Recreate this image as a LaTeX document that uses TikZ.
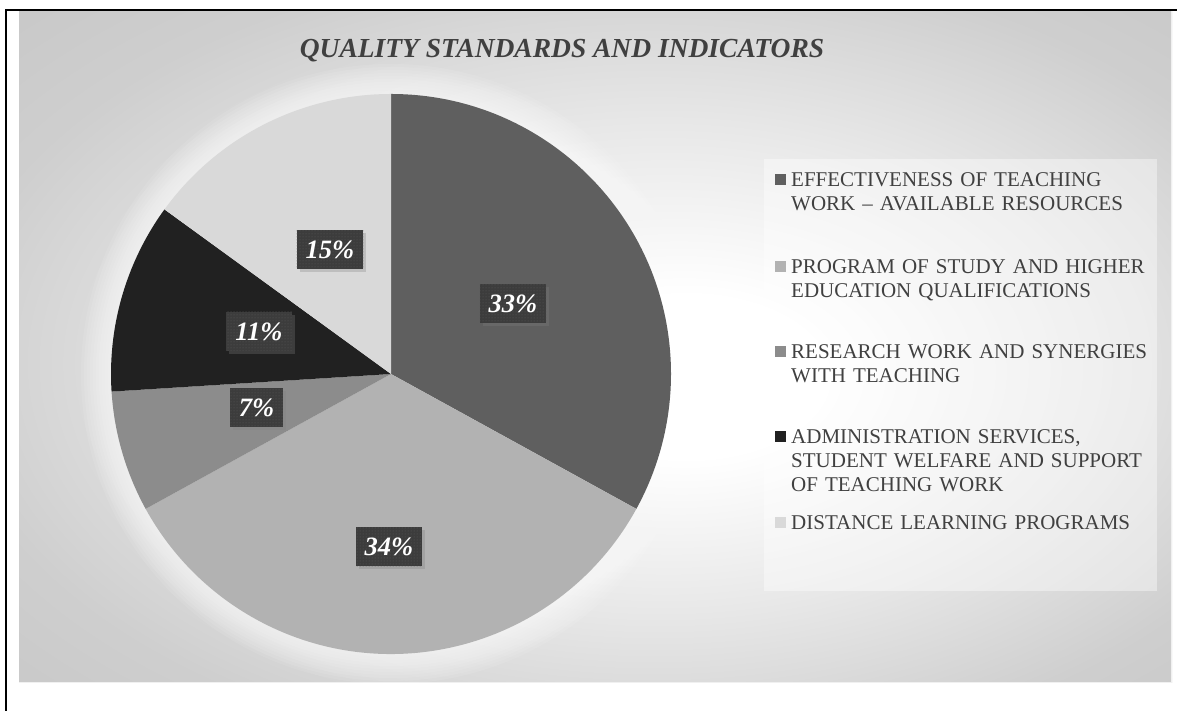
\documentclass[tikz,border=0pt]{standalone}
\usepackage{fontspec}
\setmainfont{Liberation Serif}
\usepackage{xcolor}
\usepackage{tikz}
\usetikzlibrary{positioning, calc, shadows, patterns}
\definecolor{qsText}{RGB}{64, 64, 64}
\definecolor{qsEffect}{RGB}{95, 95, 95}
\definecolor{qsProgram}{RGB}{178, 178, 178}
\definecolor{qsResearch}{RGB}{140, 140, 140}
\definecolor{qsAdmin}{RGB}{33, 33, 33}
\definecolor{qsDistance}{RGB}{217, 217, 217}
\definecolor{qsLabel}{RGB}{60, 60, 60}
\definecolor{qsDots}{RGB}{92, 92, 92}
\pgfdeclareradialshading{qsback}{\pgfpoint{4.5bp}{-2.5bp}}{%
    color(0bp)=(white); color(6bp)=(white); color(18bp)=(black!9);
    color(30bp)=(black!19); color(50bp)=(black!26)}
\tikzset{
    heading/.style={
        font=\fontsize{27.5}{30}\selectfont\bfseries\itshape,
        text=qsText,
        anchor=base,
        inner sep=0pt
    },
    pct/.style={
        font=\fontsize{26.5}{28}\selectfont\bfseries\itshape,
        text=white,
        fill=qsLabel,
        inner xsep=9pt,
        inner ysep=0pt,
        minimum height=39pt,
        postaction={pattern=dots, pattern color=qsDots},
        drop shadow={shadow xshift=3pt, shadow yshift=-3pt, opacity=0.3}
    },
    entry/.style={
        font=\fontsize{21}{24}\selectfont,
        text=qsText,
        anchor=base west,
        inner sep=0pt,
        text width=370pt,
        align=left
    },
    swatch/.style={
        rectangle,
        minimum size=11pt,
        inner sep=0pt
    }
}

\begin{document}
\begin{tikzpicture}[x=1pt, y=1pt]
    \useasboundingbox (0,0) rectangle (1177,711);

    % Chart area and frame
    \shade[shading=qsback] (19,28) rectangle (1172,699.5);
    \draw[white!88!gray, line width=1.2pt] (19,28.6) -- (1171.4,28.6) -- (1171.4,699.5);
    \draw[black, line width=2pt] (5.5,0) -- (5.5,700.5) -- (1177,700.5);

    % Title
    \node[heading] (title) at (562,653) {QUALITY STANDARDS AND INDICATORS};

    % Pie
    \coordinate (pie) at (391,337);
    \foreach \r in {1,...,10} {
        \fill[white, opacity=0.09] (pie) circle[radius={280+3*\r}];
    }
    \foreach \a/\b/\col in {90/-28.8/qsEffect, -28.8/-151.2/qsProgram,
        -151.2/-176.4/qsResearch, -176.4/-216/qsAdmin, -216/-270/qsDistance} {
        \fill[\col] (pie) -- ++(\a:280) arc[start angle=\a, end angle=\b, radius=280] -- cycle;
    }

    % Percent labels
    \node[pct] (p33) at (513,407.5) {33\%};
    \node[pct] (p34) at (389,164) {34\%};
    \node[pct] (p7) at (256.5,303) {7\%};
    \node[pct] (p11) at (259,379.5) {11\%};
    \node[pct] (p15) at (330,461.5) {15\%};

    % Legend
    \fill[white, fill opacity=0.4] (764,120) rectangle (1157,552);
    \node[entry] (e1) at (791,524) {EFFECTIVENESS OF TEACHING\\WORK – AVAILABLE RESOURCES};
    \node[entry] (e2) at (791,437) {PROGRAM OF STUDY AND HIGHER\\EDUCATION QUALIFICATIONS};
    \node[entry] (e3) at (791,352) {RESEARCH WORK AND SYNERGIES\\WITH TEACHING};
    \node[entry] (e4) at (791,267) {ADMINISTRATION SERVICES,\\STUDENT WELFARE AND SUPPORT\\OF TEACHING WORK};
    \node[entry] (e5) at (791,181) {DISTANCE LEARNING PROGRAMS};
    \foreach \i/\col in {1/qsEffect, 2/qsProgram, 3/qsResearch, 4/qsAdmin, 5/qsDistance} {
        \node[swatch, fill=\col] (s\i) at ($(e\i.base west)+(-10.5,7)$) {};
    }
\end{tikzpicture}
\end{document}
